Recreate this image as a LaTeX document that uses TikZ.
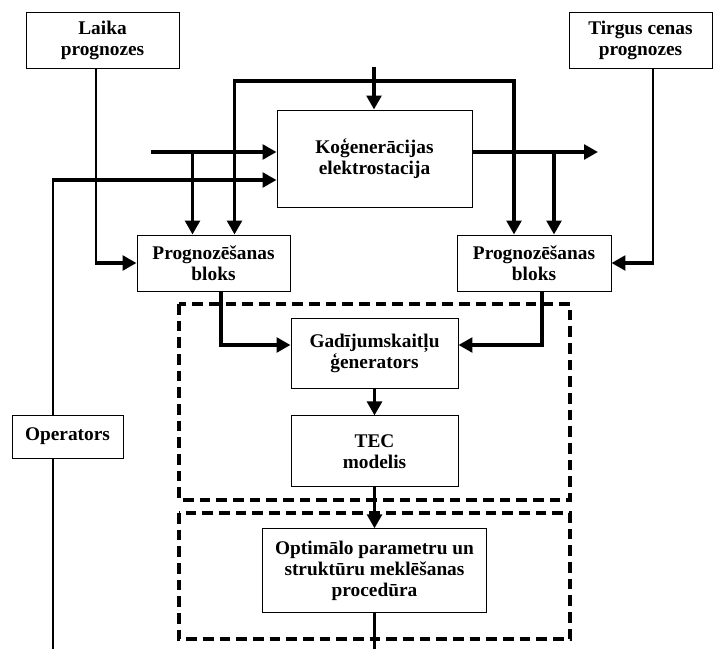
\documentclass[tikz,border=0pt]{standalone}
\usepackage{fontspec}
\setmainfont{Liberation Serif}
\usetikzlibrary{positioning}
\usetikzlibrary{arrows.meta}
\usetikzlibrary{calc}
\tikzset{blk/.style={draw,line width=0.7pt,fill=white,align=center,inner sep=2pt,font=\fontsize{14.5}{15.8}\selectfont\bfseries},
  arr/.style={-{Triangle[length=10.5pt,width=11pt]},line width=2.7pt},
  wire/.style={line width=1.7pt},
  dashbox/.style={dash pattern=on 8pt off 4.5pt,line width=2.4pt},}

\begin{document}
\begin{tikzpicture}[x=0.75pt,y=-0.75pt]
	\useasboundingbox (0,0) rectangle (713,649);
	% dashed groups
	\draw[dashbox] (179,304) rectangle (570,500);
	\draw[dashbox] (179,513) rectangle (570,639);

	\node[blk, minimum width=114.75pt, minimum height=42pt] (laika) at (102.5,40) {Laika\\prognozes};
	\node[blk, minimum width=107.25pt, minimum height=42pt] (tirgus) at (640.5,40) {Tirgus cenas\\prognozes};
	\node[blk, minimum width=146.25pt, minimum height=72.75pt] (kog) at (374.5,158.5) {Koģenerācijas\\elektrostacija};
	\node[blk, minimum width=114.75pt, minimum height=42pt] (progL) at (213.5,263) {Prognozēšanas\\bloks};
	\node[blk, minimum width=115.5pt, minimum height=42pt] (progR) at (534,263) {Prognozēšanas\\bloks};
	\node[blk, minimum width=125.25pt, minimum height=52.5pt] (gad) at (374.5,353) {Gadījumskaitļu\\ģenerators};
	\node[blk, minimum width=125.25pt, minimum height=53.25pt] (tec) [below = 20.25pt of gad] {TEC\\modelis};
	\node[blk, minimum width=168pt, minimum height=63pt] (opt) [below = 30.75pt of tec] {Optimālo parametru un\\struktūru meklēšanas\\procedūra};
	\node[blk, minimum width=83.25pt, minimum height=32.25pt] (oper) at (67.5,436.5) {Operators};

	\coordinate (gas) at (374,67);
	\coordinate (loop) at (374,81);
	\coordinate (in1) at (151,152);
	\coordinate (in2) at ($(kog.west)+(0,21.5)$);
	\coordinate (out) at (598,152);
	\coordinate (obot) at (53,649);
	\coordinate (pL1) at ($(progL.north)+(-21,0)$);
	\coordinate (pL2) at ($(progL.north)+(21,0)$);
	\coordinate (pR1) at ($(progR.north)+(-20,0)$);
	\coordinate (pR2) at ($(progR.north)+(20,0)$);

	% inputs of the station
	\draw[arr] (gas) -- (gas |- kog.north);
	\draw[arr] (loop) -| (pL2);
	\draw[arr] (loop) -| (pR1);
	\draw[arr] (in1) -- (in1 -| kog.west);
	\draw[arr] (in1 -| pL1) -- (pL1);
	\draw[arr] (out -| kog.east) -- (out);
	\draw[arr] (out -| pR2) -- (pR2);

	% forecasts
	\draw[wire] ($(laika.south)+(-6.5,0)$) -- ($(laika.south |- progL.west)+(-6.5,0)$);
	\draw[arr] ($(laika.south |- progL.west)+(-7.3,0)$) -- (progL.west);
	\draw[wire] ($(tirgus.south)+(12.5,0)$) -- ($(tirgus.south |- progR.east)+(12.5,0)$);
	\draw[arr] ($(tirgus.south |- progR.east)+(13.3,0)$) -- (progR.east);

	% operator
	\draw[wire] (obot) -- (obot |- oper.south);
	\draw[wire] (obot |- oper.north) -- (obot |- in2);
	\draw[arr] ($(obot |- in2)+(-0.8,0)$) -- (in2);

	% generator and model
	\draw[arr] ($(progL.south)+(7.5,0)$) |- ($(gad.west)+(0,-8)$);
	\draw[arr] ($(progR.south)+(8,0)$) |- ($(gad.east)+(0,-8)$);
	\draw[arr] (gad) -- (tec);
	\draw[arr] (tec) -- (opt);
	\draw[wire] (opt.south) -- (opt.south |- obot);
\end{tikzpicture}
\end{document}
